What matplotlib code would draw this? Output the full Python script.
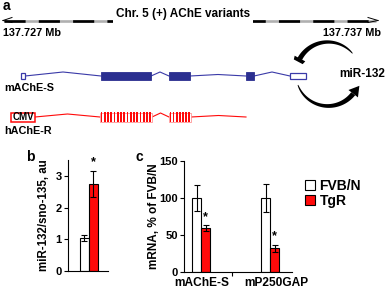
import matplotlib
matplotlib.use('Agg')
import matplotlib.pyplot as plt
import numpy as np
from matplotlib.patches import Rectangle, Polygon, Patch

plt.rcParams['font.family'] = ['Liberation Sans', 'DejaVu Sans']
plt.rcParams['font.weight'] = 'bold'
plt.rcParams['axes.labelweight'] = 'bold'

# ---------------- data ----------------
b_labels = ['FVB/N', 'TgR']
b_values = [1.05, 2.74]
b_errors = [0.10, 0.42]
b_sig = [False, True]

c_categories = ['mAChE-S', 'mP250GAP']
c_fvb = [100, 100]
c_fvb_err = [17, 19]
c_tgr = [59, 32]
c_tgr_err = [4, 5]

chr_title = 'Chr. 5 (+) AChE variants'
chr_start_label = '137.727 Mb'
chr_end_label = '137.737 Mb'

# schematic gene models (layout along the chromosome track)
mache_exons = [(21, 25, 'open'), (101, 151, 'filled'), (169, 190, 'filled'),
               (246, 254, 'filled'), (290, 306, 'open')]
hache_exons = [(100, 152), (169, 191)]

RED = '#ff0a0a'
BLUE_LINE = '#3a3aa8'
BLUE_FILL = '#2b2f90'

W, H = 387, 288
fig = plt.figure(figsize=(W / 100, H / 100), dpi=100)

# ---------------- panel a (pixel-coordinate canvas) ----------------
ax = fig.add_axes([0, 0, 1, 1])
ax.set_xlim(0, W)
ax.set_ylim(H, 0)
ax.axis('off')

ax.text(3, 6, 'a', fontsize=10, fontweight='bold', va='center', ha='left')

# chromosome track
ycr = 20.5
ax.plot([4, 376], [ycr, ycr], color='#b0b0b0', lw=1.9, solid_capstyle='butt', zorder=2)
ax.plot([4, 376], [ycr, ycr], color='black', lw=1.9, dashes=(8, 5), zorder=3)
ax.plot([3, 12], [ycr, ycr - 3], color='black', lw=0.7, zorder=3)
ax.plot([3, 12], [ycr, ycr + 2], color='black', lw=0.7, zorder=3)
ax.plot([378, 368], [ycr, ycr - 3], color='black', lw=0.7, zorder=3)
ax.plot([378, 368], [ycr, ycr + 2], color='black', lw=0.7, zorder=3)
ax.text(183, 14.5, chr_title, fontsize=8.5, ha='center', va='center', zorder=5,
        bbox=dict(facecolor='white', edgecolor='none', pad=2.2))
ax.text(3, 33, chr_start_label, fontsize=7.8, ha='left', va='center')
ax.text(381, 33, chr_end_label, fontsize=7.8, ha='right', va='center')


def intron(x0, x1, y, color, lift=4.5):
    xm = (x0 + x1) / 2
    ax.plot([x0, xm, x1], [y, y - lift, y], color=color, lw=0.8, zorder=2)


# mAChE-S
ym = 76
for i in range(len(mache_exons) - 1):
    intron(mache_exons[i][1], mache_exons[i + 1][0], ym, BLUE_LINE,
           lift=4 if i != 2 else 1.5)
for x0, x1, kind in mache_exons:
    if kind == 'open':
        ax.add_patch(Rectangle((x0, ym - 3.2), x1 - x0, 6.4, facecolor='white',
                               edgecolor=BLUE_LINE, lw=0.9, zorder=3))
    else:
        ax.add_patch(Rectangle((x0, ym - 4.4), x1 - x0, 8.8, facecolor=BLUE_FILL,
                               edgecolor=BLUE_FILL, lw=0.6, zorder=3))
ax.text(4, 88, 'mAChE-S', fontsize=7.8, ha='left', va='center')

# hAChE-R
yh = 117
ax.add_patch(Rectangle((11, yh - 4.5), 24, 9, facecolor='white', edgecolor=RED,
                       lw=1.1, zorder=3))
ax.text(23, yh, 'CMV', fontsize=7, ha='center', va='center', zorder=4)
intron(35, hache_exons[0][0], yh, RED, lift=3)
intron(hache_exons[0][1], hache_exons[1][0], yh, RED, lift=4)
intron(hache_exons[1][1], 246, yh, RED, lift=1.5)
for x0, x1 in hache_exons:
    ax.add_patch(Rectangle((x0, yh - 4.5), x1 - x0, 9, facecolor='white',
                           edgecolor='#ff8080', lw=0.5, zorder=3))
    n = int(round((x1 - x0) / 3.3))
    for k in range(n):
        xs = x0 + 0.6 + k * (x1 - x0) / n
        ax.add_patch(Rectangle((xs, yh - 4.8), 1.7, 9.6, facecolor=RED,
                               edgecolor='none', zorder=4))
ax.text(4, 131, 'hAChE-R', fontsize=7.8, ha='left', va='center')

# miR-132 feedback loop
ax.text(339, 74, 'miR-132', fontsize=8.5, ha='left', va='center')
cx, cy, r = 328, 74, 32


def tapered_arc(t0, t1, w0, w1):
    th = np.radians(np.linspace(t0, t1, 80))
    s = np.linspace(0, 1, 80) ** 0.6
    w = w0 + (w1 - w0) * s
    outer = np.c_[cx + (r + w / 2) * np.cos(th), cy - (r + w / 2) * np.sin(th)]
    inner = np.c_[cx + (r - w / 2) * np.cos(th), cy - (r - w / 2) * np.sin(th)]
    ax.add_patch(Polygon(np.vstack([outer, inner[::-1]]), closed=True,
                         facecolor='black', edgecolor='none', zorder=5))
    te = th[-1]
    end = np.array([cx + r * np.cos(te), cy - r * np.sin(te)])
    tang = np.array([-np.sin(te), -np.cos(te)])
    rad = np.array([np.cos(te), -np.sin(te)])
    return end, tang, rad


end, tang, rad = tapered_arc(40, 152, 0.6, 5.0)
bar = [end + rad * 6 - tang * 0.5, end - rad * 6 - tang * 0.5,
       end - rad * 5 + tang * 3.2, end + rad * 5 + tang * 3.2]
ax.add_patch(Polygon(bar, closed=True, facecolor='black', edgecolor='none', zorder=5))

end, tang, rad = tapered_arc(200, 322, 0.6, 5.0)
head = [end + rad * 6, end - rad * 6, end + tang * 10]
ax.add_patch(Polygon(head, closed=True, facecolor='black', edgecolor='none', zorder=5))

# ---------------- panel b ----------------
axb = fig.add_axes([68 / W, (H - 271) / H, 40 / W, 111 / H])
bx = [1.6, 2.5]
axb.bar(bx, b_values, width=0.9, color=['white', RED], edgecolor='black', lw=0.8,
        yerr=b_errors, error_kw=dict(ecolor='black', elinewidth=0.8, capsize=2.2,
                                     capthick=0.8))
for x, v, e, s in zip(bx, b_values, b_errors, b_sig):
    if s:
        axb.text(x, v + e + 0.08, '*', ha='center', va='bottom', fontsize=9)
axb.set_xlim(0, 4)
axb.set_ylim(0, 3.5)
axb.set_yticks([0, 1, 2, 3])
axb.set_xticks([])
axb.set_ylabel('miR-132/sno-135, au', fontsize=8.3)
axb.yaxis.set_label_coords((50 - 68) / 40, 0.5)
for sp in ['top', 'right']:
    axb.spines[sp].set_visible(False)
for sp in ['left', 'bottom']:
    axb.spines[sp].set_linewidth(0.8)
axb.tick_params(axis='y', length=3, width=0.8, pad=1.5, labelsize=8)
fig.text(26 / W, 1 - 157 / H, 'b', fontsize=10, fontweight='bold', ha='left', va='center')

# ---------------- panel c ----------------
axc = fig.add_axes([184 / W, (H - 272) / H, 108 / W, 111 / H])
gc = np.array([1.92, 9.56])
axc.bar(gc - 0.5, c_fvb, width=1.0, color='white', edgecolor='black', lw=0.8,
        yerr=c_fvb_err, error_kw=dict(ecolor='black', elinewidth=0.8, capsize=2.2,
                                      capthick=0.8), label='FVB/N')
axc.bar(gc + 0.5, c_tgr, width=1.0, color=RED, edgecolor='black', lw=0.8,
        yerr=c_tgr_err, error_kw=dict(ecolor='black', elinewidth=0.8, capsize=2.2,
                                      capthick=0.8), label='TgR')
for x, v, e in zip(gc + 0.5, c_tgr, c_tgr_err):
    axc.text(x, v + e + 3, '*', ha='center', va='bottom', fontsize=9)
axc.set_xlim(0, 12)
axc.set_ylim(0, 150)
axc.set_yticks([0, 50, 100, 150])
axc.set_xticks(gc + np.array([0.1, 0.65]))
axc.set_xticklabels(c_categories, fontsize=8.6)
axc.set_xticks([5.33], minor=True)
axc.tick_params(axis='x', which='major', length=0, pad=3.5)
axc.tick_params(axis='x', which='minor', length=3, width=0.8)
axc.tick_params(axis='y', length=3, width=0.8, pad=1.5, labelsize=8)
axc.set_ylabel('mRNA, % of FVB/N', fontsize=8.5)
axc.yaxis.set_label_coords((160 - 184) / 108, 0.5)
for sp in ['top', 'right']:
    axc.spines[sp].set_visible(False)
for sp in ['left', 'bottom']:
    axc.spines[sp].set_linewidth(0.8)
fig.text(135 / W, 1 - 157 / H, 'c', fontsize=10, fontweight='bold', ha='left', va='center')

handles = [Patch(facecolor='white', edgecolor='black', lw=0.8),
           Patch(facecolor=RED, edgecolor='black', lw=0.8)]
fig.legend(handles, b_labels, loc='upper left', bbox_to_anchor=(305 / W, 1 - 179 / H),
           frameon=False, fontsize=10, handlelength=0.75, handleheight=0.75,
           handletextpad=0.3, labelspacing=0.05, borderpad=0, borderaxespad=0)

fig.savefig('out.png', dpi=100)
